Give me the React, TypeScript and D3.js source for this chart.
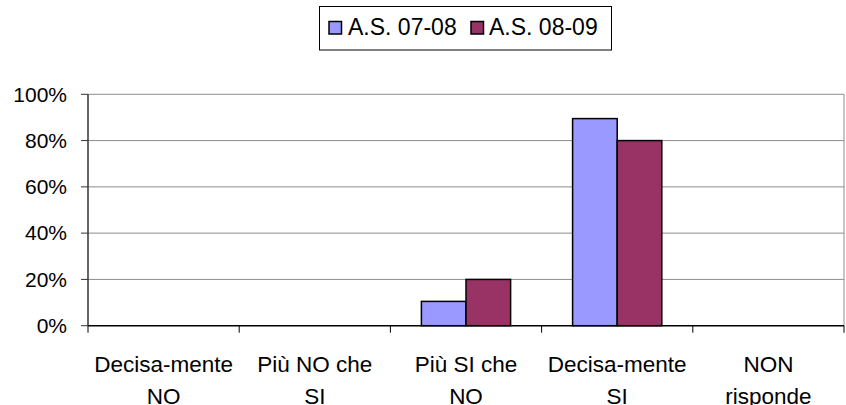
import React, { useEffect, useRef } from "react";
import * as d3 from "d3";

const categories = [
  ["Decisa-mente", "NO"],
  ["Più NO che", "SI"],
  ["Più SI che", "NO"],
  ["Decisa-mente", "SI"],
  ["NON", "risponde"],
];
const seriesNames = ["A.S. 07-08", "A.S. 08-09"];
const series0708 = [0, 0, 10.5, 89.5, 0];
const series0809 = [0, 0, 20, 80, 0];
const yTicks = [0, 20, 40, 60, 80, 100];
const colors = ["#9999FF", "#993366"];

const W = 846;
const H = 405;
const FONT = "Liberation Sans, Arial, sans-serif";

export default function App() {
  const ref = useRef<SVGSVGElement>(null);

  useEffect(() => {
    const svg = d3.select(ref.current);
    svg.selectAll("*").remove();

    const left = 88, right = 844, top = 94.3, bottom = 325.7;
    const x = d3.scaleBand<number>().domain(d3.range(categories.length)).range([left, right]).padding(0);
    const groupW = x.bandwidth() * 0.59;
    const barW = groupW / 2;
    const y = d3.scaleLinear().domain([0, 100]).range([bottom, top]);

    const g = svg.append("g");
    // gridlines
    g.selectAll("line.grid")
      .data(yTicks.filter((t) => t > 0))
      .join("line")
      .attr("x1", left).attr("x2", right)
      .attr("y1", (d) => y(d)).attr("y2", (d) => y(d))
      .attr("stroke", "#8c8c8c").attr("stroke-width", 1);
    // right border
    g.append("line").attr("x1", right).attr("x2", right).attr("y1", top).attr("y2", bottom)
      .attr("stroke", "#8c8c8c").attr("stroke-width", 1);

    // bars
    const data = [series0708, series0809];
    data.forEach((vals, si) => {
      g.selectAll(`rect.s${si}`)
        .data(vals.map((v, i) => ({ v, i })).filter((d) => d.v > 0))
        .join("rect")
        .attr("x", (d) => x(d.i)! + x.bandwidth() / 2 - groupW / 2 + si * barW)
        .attr("y", (d) => y(d.v))
        .attr("width", barW)
        .attr("height", (d) => y(0) - y(d.v))
        .attr("fill", colors[si])
        .attr("stroke", "#000").attr("stroke-width", 1.5);
    });

    // y axis
    g.append("line").attr("x1", left).attr("x2", left).attr("y1", top).attr("y2", bottom)
      .attr("stroke", "#333").attr("stroke-width", 1.5);
    yTicks.forEach((t) => {
      g.append("line").attr("x1", left - 7).attr("x2", left).attr("y1", y(t)).attr("y2", y(t))
        .attr("stroke", "#333").attr("stroke-width", 1);
      g.append("text").attr("x", 67).attr("y", y(t)).attr("dy", "0.35em")
        .attr("text-anchor", "end").attr("font-family", FONT).attr("font-size", 21)
        .attr("fill", "#000").text(`${t}%`);
    });

    // x axis
    g.append("line").attr("x1", left).attr("x2", right).attr("y1", bottom).attr("y2", bottom)
      .attr("stroke", "#000").attr("stroke-width", 1.5);
    d3.range(categories.length + 1).forEach((i) => {
      const xx = left + i * x.step();
      g.append("line").attr("x1", xx).attr("x2", xx).attr("y1", bottom).attr("y2", bottom + 7)
        .attr("stroke", "#000").attr("stroke-width", 1);
    });
    categories.forEach((lines, i) => {
      const cx = x(i)! + x.bandwidth() / 2;
      lines.forEach((ln, li) => {
        g.append("text").attr("x", cx).attr("y", 371.5 + li * 32)
          .attr("text-anchor", "middle").attr("font-family", FONT).attr("font-size", 22.5)
          .attr("fill", "#000").text(ln);
      });
    });

    // legend
    const lg = svg.append("g");
    lg.append("rect").attr("x", 319.5).attr("y", 6.5).attr("width", 292).attr("height", 43.5)
      .attr("fill", "#fff").attr("stroke", "#000").attr("stroke-width", 1);
    const items = [
      { sx: 329, tx: 348 },
      { sx: 471, tx: 489 },
    ];
    seriesNames.forEach((name, i) => {
      lg.append("rect").attr("x", items[i].sx).attr("y", 21.5).attr("width", 12.5).attr("height", 12.5)
        .attr("fill", colors[i]).attr("stroke", "#000").attr("stroke-width", 1.5);
      lg.append("text").attr("x", items[i].tx).attr("y", 35).attr("font-family", FONT)
        .attr("font-size", 23).attr("fill", "#000").text(name);
    });
  }, []);

  return (
    <svg
      ref={ref}
      width={W}
      height={H}
      style={{ position: "fixed", left: 0, top: 0, background: "#fff" }}
    />
  );
}
